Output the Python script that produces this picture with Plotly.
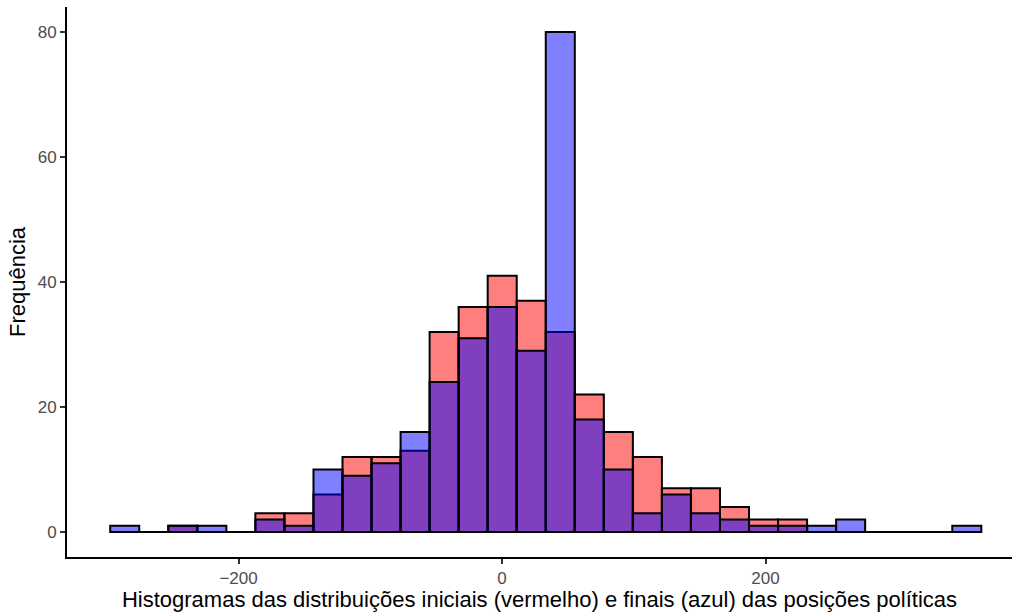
import plotly.graph_objects as go

# Histogram bins (shared by both series)
bin_start = -297.4
bin_width = 22.04
n_bins = 30

# Counts per bin: initial (red) and final (blue) distributions
counts_initial = [0, 0, 1, 0, 0, 3, 3, 6, 12, 12, 13, 32, 36, 41, 37, 32, 22, 16, 12, 7, 7, 4, 2, 2, 0, 0, 0, 0, 0, 0]
counts_final = [1, 0, 1, 1, 0, 2, 1, 10, 9, 11, 16, 24, 31, 36, 29, 80, 18, 10, 3, 6, 3, 2, 1, 1, 1, 2, 0, 0, 0, 1]

x_ticks = [-200, 0, 200]
y_ticks = [0, 20, 40, 60, 80]

x_title = "Histogramas das distribuições iniciais (vermelho) e finais (azul) das posições políticas"
y_title = "Frequência"

centers = [bin_start + bin_width * (i + 0.5) for i in range(n_bins)]
edges = [bin_start, bin_start + bin_width * n_bins]

fig = go.Figure()
fig.add_trace(go.Scatter(x=edges, y=[0, 0], mode="lines",
                         line=dict(color="black", width=2), hoverinfo="skip", showlegend=False))
fig.add_trace(go.Bar(x=centers, y=counts_initial, width=bin_width,
                     marker=dict(color="rgba(255,0,0,0.5)", line=dict(color="black", width=2)),
                     showlegend=False, name="inicial"))
fig.add_trace(go.Bar(x=centers, y=counts_final, width=bin_width,
                     marker=dict(color="rgba(0,0,255,0.5)", line=dict(color="black", width=2)),
                     showlegend=False, name="final"))

axis_common = dict(showgrid=False, zeroline=False, showline=True, linecolor="black", linewidth=2,
                   ticks="outside", ticklen=5, tickwidth=2, tickcolor="#333333",
                   tickfont=dict(family="Liberation Sans, Arial, sans-serif", size=17, color="#4D4D4D"))

fig.update_layout(
    barmode="overlay",
    width=1012, height=612,
    margin=dict(l=67, r=0, t=7, b=55),
    plot_bgcolor="white", paper_bgcolor="white",
    font=dict(family="Liberation Sans, Arial, sans-serif", color="black"),
    xaxis=dict(range=[-330.2, 387.1], tickvals=x_ticks, ticktext=["\u2212200", "0", "200"],
               title=dict(text=x_title, font=dict(size=22, color="black"), standoff=2),
               **axis_common),
    yaxis=dict(range=[-4, 84], tickvals=y_ticks,
               title=dict(text=y_title, font=dict(size=22, color="black"), standoff=6),
               **axis_common),
)

fig.write_html("out.html", config={"displayModeBar": False},
               post_script="document.body.style.margin='0';document.body.style.overflow='hidden';")
